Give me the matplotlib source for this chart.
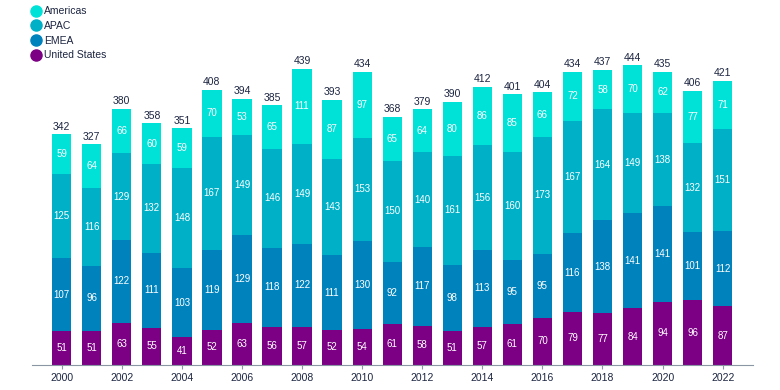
import numpy as np
import matplotlib.pyplot as plt
from matplotlib.lines import Line2D

years = list(range(2000, 2023))
united_states = [51, 51, 63, 55, 41, 52, 63, 56, 57, 52, 54, 61, 58, 51, 57, 61, 70, 79, 77, 84, 94, 96, 87]
emea = [107, 96, 122, 111, 103, 119, 129, 118, 122, 111, 130, 92, 117, 98, 113, 95, 95, 116, 138, 141, 141, 101, 112]
apac = [125, 116, 129, 132, 148, 167, 149, 146, 149, 143, 153, 150, 140, 161, 156, 160, 173, 167, 164, 149, 138, 132, 151]
americas = [59, 64, 66, 60, 59, 70, 53, 65, 111, 87, 97, 65, 64, 80, 86, 85, 66, 72, 58, 70, 62, 77, 71]

series = [('United States', united_states, '#7b0083'),
          ('EMEA', emea, '#0082bd'),
          ('APAC', apac, '#00b0c6'),
          ('Americas', americas, '#00e2d8')]

text_color = '#1c2541'
plt.rcParams['font.family'] = ['Liberation Sans', 'DejaVu Sans']

fig = plt.figure(figsize=(7.8, 3.9), dpi=100)
ax = fig.add_axes([0.041, 0.064, 0.924, 0.936])

x = np.arange(len(years))
bottom = np.zeros(len(years))
for name, vals, color in series:
    vals = np.array(vals)
    ax.bar(x, vals, width=0.64, bottom=bottom, color=color, label=name)
    for xi, b, v in zip(x, bottom, vals):
        ax.text(xi, b + v / 2, str(v), ha='center', va='center', color='white', fontsize=7)
    bottom += vals

# totals above each bar
for xi, t in zip(x, bottom):
    ax.text(xi, t + 4, str(int(t)), ha='center', va='bottom', color=text_color, fontsize=7.5)

ax.set_xlim(-0.99, 23.0)
ax.set_ylim(0, 541)
ax.set_xticks(x[::2])
ax.set_xticklabels([str(y) for y in years[::2]], fontsize=7.5, color=text_color)
ax.tick_params(axis='x', length=3, color='#8a96a3', pad=3)
ax.set_yticks([])
for s in ['top', 'right', 'left']:
    ax.spines[s].set_visible(False)
ax.spines['bottom'].set_color('#8a96a3')

handles = [Line2D([], [], marker='o', linestyle='', markersize=8, color=c, label=n)
           for n, _, c in series[::-1]]
fig.legend(handles=handles, loc='upper left', bbox_to_anchor=(0.032, 1.0), frameon=False,
           fontsize=7.5, labelcolor=text_color, handletextpad=0.2, labelspacing=0.45,
           borderaxespad=0.2, handlelength=1.0)

plt.savefig('out.png', dpi=100)
